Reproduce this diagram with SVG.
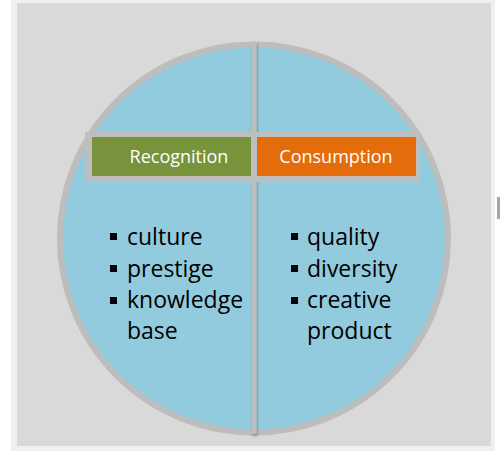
<svg xmlns="http://www.w3.org/2000/svg" width="500" height="455" viewBox="0 0 500 455">
<defs>
<style>
.lbl{font-family:"Open Sans","Noto Sans",sans-serif;font-size:18px;fill:#ffffff;text-anchor:middle}
.itm{font-family:"Open Sans","Noto Sans",sans-serif;font-size:23px;fill:#000000}
.bul{fill:#000000}
</style>
<filter id="sh" x="-50%" y="-5%" width="200%" height="110%">
<feDropShadow dx="1" dy="2" stdDeviation="1.5" flood-color="#000" flood-opacity="0.3"/>
</filter>
</defs>
<rect x="0" y="0" width="500" height="455" fill="#ffffff"/>
<rect x="11" y="0" width="484" height="451" fill="#f0f0f0"/>
<rect x="17" y="3" width="474" height="443" fill="#d9d9d9"/>
<rect x="497" y="197" width="3" height="22" fill="#a6a6a6"/>
<g id="circle">
<circle cx="254" cy="238.5" r="194" fill="#92cbdd" stroke="#bdbdbd" stroke-width="6"/>
</g>
<g id="connectors">
<rect x="251.5" y="42" width="5" height="392" fill="#bebebe" filter="url(#sh)"/>
<rect x="85" y="132" width="335" height="50" fill="#bebebe"/>
</g>
<g id="recognition">
<rect x="92" y="137" width="159" height="39" fill="#77933c"/>
<text class="lbl" x="179" y="162.5">Recognition</text>
</g>
<g id="consumption">
<rect x="257" y="137" width="159" height="39" fill="#e46c0a"/>
<text class="lbl" x="336" y="162.5">Consumption</text>
</g>
<g id="left-list">
<rect class="bul" x="110" y="233" width="7" height="7"/>
<text class="itm" x="127" y="245">culture</text>
<rect class="bul" x="110" y="265" width="7" height="7"/>
<text class="itm" x="127" y="277">prestige</text>
<rect class="bul" x="110" y="297" width="7" height="7"/>
<text class="itm" x="127" y="308">knowledge</text>
<text class="itm" x="127" y="339">base</text>
</g>
<g id="right-list">
<rect class="bul" x="291" y="233" width="7" height="7"/>
<text class="itm" x="307" y="245">quality</text>
<rect class="bul" x="291" y="265" width="7" height="7"/>
<text class="itm" x="307" y="277">diversity</text>
<rect class="bul" x="291" y="297" width="7" height="7"/>
<text class="itm" x="307" y="308">creative</text>
<text class="itm" x="307" y="339">product</text>
</g>
</svg>
